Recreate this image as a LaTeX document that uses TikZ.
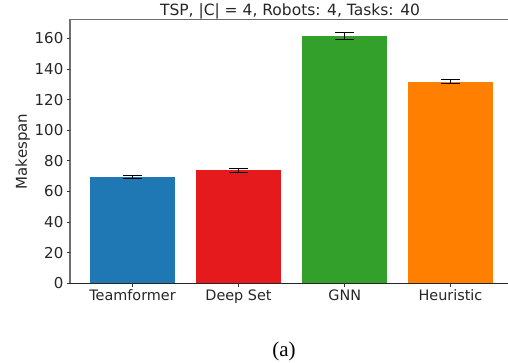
\documentclass[tikz,border=0pt]{standalone}
\usepackage{fontspec}
\setmainfont{Liberation Serif}
\newfontfamily\plotfont{DejaVu Sans}
\usetikzlibrary{positioning}
\definecolor{tfblue}{HTML}{1F77B4}
\definecolor{dsred}{HTML}{E41A1C}
\definecolor{gnngreen}{HTML}{33A02C}
\definecolor{heuorange}{HTML}{FF7F00}
\definecolor{spinegray}{HTML}{6E6E6E}

\begin{document}
\begin{tikzpicture}[x=1pt, y=-1pt,
  lbl/.style={font=\plotfont\fontsize{15}{18}\selectfont, inner sep=0pt, text=black!85},
  ytick/.style={lbl, anchor=east},
  xtick/.style={lbl, anchor=base, font=\plotfont\fontsize{14.4}{17}\selectfont},
  spine/.style={draw=spinegray, line width=1.4pt},
  tickmark/.style={draw=black!80, line width=0.9pt},
  err/.style={draw=black, line width=1pt}]
\useasboundingbox (0,0) rectangle (508,362);
\node[lbl, anchor=base, font=\plotfont\fontsize{15.5}{18}\selectfont] (title) at (290,15.3) {TSP, |C| = 4, Robots: 4, Tasks: 40};
\node[lbl, rotate=90, anchor=base] (ylab) at (27,151.4) {Makespan};
\node[anchor=base, inner sep=0pt, font=\fontsize{21}{24}\selectfont] (cap) at (284,356) {(a)};
\begin{scope}[shift={(0pt,-283.3pt)}, y=1.531pt]
% bars
\fill[tfblue] (90,0) rectangle (175,69.6);
\fill[dsred] (196,0) rectangle (281,74.0);
\fill[gnngreen] (302.3,0) rectangle (387,161.5);
\fill[heuorange] (408,0) rectangle (493,131.5);
% error bars
\draw[err] (132.5,68.4) -- (132.5,70.7); \draw[err] (123,68.4) -- (142,68.4); \draw[err] (123,70.7) -- (142,70.7);
\draw[err] (238.5,72.6) -- (238.5,74.9); \draw[err] (229,72.6) -- (248,72.6); \draw[err] (229,74.9) -- (248,74.9);
\draw[err] (344.7,159.3) -- (344.7,164.1); \draw[err] (335.2,159.3) -- (354.2,159.3); \draw[err] (335.2,164.1) -- (354.2,164.1);
\draw[err] (450.5,130.2) -- (450.5,132.8); \draw[err] (441,130.2) -- (460,130.2); \draw[err] (441,132.8) -- (460,132.8);
% axes
\draw[spine] (70,0) -- (70,172.3) -- (508,172.3);
\draw[draw=black!85, line width=1pt] (70,0) -- (508,0);
% y ticks
\draw[tickmark] (66.5,0) -- (70,0); \draw[tickmark] (66.5,20) -- (70,20); \draw[tickmark] (66.5,40) -- (70,40);
\draw[tickmark] (66.5,60) -- (70,60); \draw[tickmark] (66.5,80) -- (70,80); \draw[tickmark] (66.5,100) -- (70,100);
\draw[tickmark] (66.5,120) -- (70,120); \draw[tickmark] (66.5,140) -- (70,140); \draw[tickmark] (66.5,160) -- (70,160);
\node[ytick] (y0) at (63.5,0) {0};
\node[ytick] (y20) at (63.5,20) {20};
\node[ytick] (y40) at (63.5,40) {40};
\node[ytick] (y60) at (63.5,60) {60};
\node[ytick] (y80) at (63.5,80) {80};
\node[ytick] (y100) at (63.5,100) {100};
\node[ytick] (y120) at (63.5,120) {120};
\node[ytick] (y140) at (63.5,140) {140};
\node[ytick] (y160) at (63.5,160) {160};
% x ticks
\draw[tickmark] (132.5,0) -- (132.5,-2.3); \draw[tickmark] (238.5,0) -- (238.5,-2.3);
\draw[tickmark] (344.7,0) -- (344.7,-2.3); \draw[tickmark] (450.5,0) -- (450.5,-2.3);
\node[xtick] (tf) at (132.5,-11.2) {Teamformer};
\node[xtick] (ds) at (238.5,-11.2) {Deep Set};
\node[xtick] (gnn) at (344.7,-11.2) {GNN};
\node[xtick] (heu) at (450.5,-11.2) {Heuristic};
\end{scope}
\end{tikzpicture}
\end{document}
